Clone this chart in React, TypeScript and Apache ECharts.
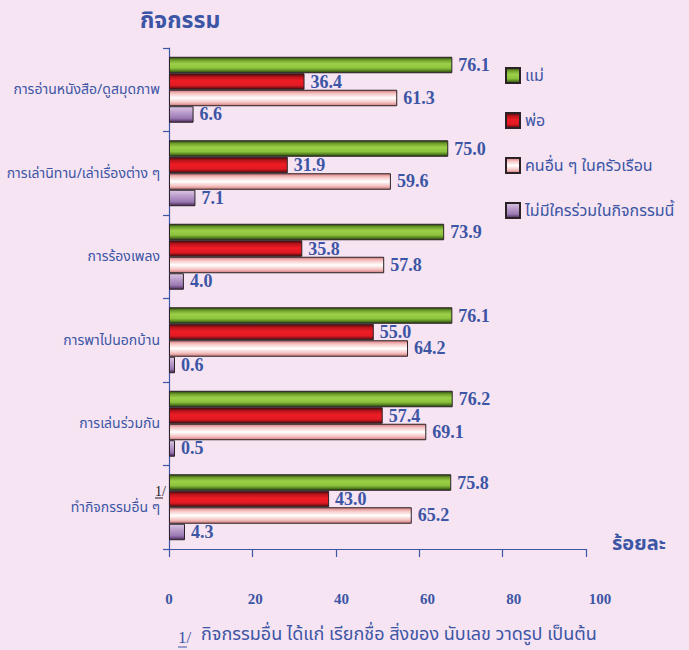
import React, { useEffect, useRef } from "react";
import * as echarts from "echarts";

const categories = [
  "การอ่านหนังสือ/ดูสมุดภาพ",
  "การเล่านิทาน/เล่าเรื่องต่าง ๆ",
  "การร้องเพลง",
  "การพาไปนอกบ้าน",
  "การเล่นร่วมกัน",
  "ทำกิจกรรมอื่น ๆ",
];
const seriesNames = ["แม่", "พ่อ", "คนอื่น ๆ ในครัวเรือน", "ไม่มีใครร่วมในกิจกรรมนี้"];
const mother = [76.1, 75.0, 73.9, 76.1, 76.2, 75.8];
const father = [36.4, 31.9, 35.8, 55.0, 57.4, 43.0];
const others = [61.3, 59.6, 57.8, 64.2, 69.1, 65.2];
const nobody = [6.6, 7.1, 4.0, 0.6, 0.5, 4.3];
const tickValues = [0, 20, 40, 60, 80, 100];

const BLUE = "#3c55a5";
const THAI = "'Noto Sans Thai', 'Noto Sans', 'DejaVu Sans', sans-serif";
const SERIF = "'Liberation Serif', 'Times New Roman', serif";

const grad = (stops: [number, string][]) =>
  new echarts.graphic.LinearGradient(0, 0, 0, 1, stops.map(([offset, color]) => ({ offset, color })));

const fills = [
  grad([[0, "#2c4510"], [0.18, "#6e9e2a"], [0.42, "#9dd049"], [0.7, "#8cc33c"], [0.88, "#517c1d"], [1, "#263b0e"]]),
  grad([[0, "#3e0808"], [0.2, "#b8141b"], [0.45, "#ee1c25"], [0.75, "#e21a23"], [0.9, "#8a1016"], [1, "#3e0808"]]),
  grad([[0, "#d47c7c"], [0.22, "#f7c6c6"], [0.5, "#ffffff"], [0.78, "#f6c4c4"], [1, "#cf7a7a"]]),
  grad([[0, "#dcc6e4"], [0.35, "#bc9fcc"], [0.75, "#9a78b2"], [1, "#4a2858"]]),
];

export default function App() {
  const ref = useRef<HTMLDivElement>(null);
  useEffect(() => {
    if (!ref.current) return;
    const chart = echarts.init(ref.current, null, { renderer: "svg" });
    const data = [mother, father, others, nobody];
    const option: any = {
      animation: false,
      backgroundColor: "#f6e4f2",
      legend: {
        orient: "vertical",
        left: 500,
        top: 62,
        itemWidth: 14,
        itemHeight: 15,
        itemGap: 28,
        icon: "rect",
        data: seriesNames,
        textStyle: { color: BLUE, fontSize: 16, fontFamily: THAI },
      },
      grid: [
        { left: 169, right: 103, top: 48, bottom: 101, containLabel: false },
        { left: 169, width: 431, top: 48, bottom: 101, containLabel: false },
      ],
      xAxis: [
        {
          type: "value",
          gridIndex: 0,
          min: 0,
          max: 100,
          interval: 20,
          axisLine: { show: true, lineStyle: { color: BLUE, width: 1.2 } },
          axisTick: { show: true, length: 8, lineStyle: { color: BLUE, width: 1.2 } },
          axisLabel: { show: false },
          splitLine: { show: false },
        },
        {
          type: "value",
          gridIndex: 0,
          min: 0,
          max: 112,
          show: false,
          splitLine: { show: false },
        },
        {
          type: "value",
          gridIndex: 1,
          min: 0,
          max: 100,
          interval: 20,
          axisLine: { show: false },
          axisTick: { show: false },
          splitLine: { show: false },
          axisLabel: {
            show: true,
            margin: 42,
            color: BLUE,
            fontFamily: SERIF,
            fontWeight: "bold",
            fontSize: 15,
            customValues: tickValues,
          },
        },
      ],
      yAxis: [
        {
          type: "category",
          gridIndex: 0,
          inverse: true,
          data: categories,
          axisLine: { show: true, lineStyle: { color: BLUE, width: 1.2 } },
          axisTick: { show: true, length: 6, lineStyle: { color: BLUE, width: 1.2 } },
          axisLabel: { color: BLUE, fontFamily: THAI, fontSize: 14, margin: 9 },
        },
        { type: "category", gridIndex: 1, data: categories, show: false },
      ],
      series: seriesNames.map((name, i) => ({
        name,
        type: "bar",
        xAxisIndex: 1,
        yAxisIndex: 0,
        data: data[i],
        barGap: "0%",
        barCategoryGap: "21%",
        barMinHeight: i === 3 ? 6 : 0,
        itemStyle: { color: fills[i], borderColor: "#2a2226", borderWidth: 1 },
        label: {
          show: true,
          position: "right",
          distance: 6,
          color: BLUE,
          fontFamily: SERIF,
          fontWeight: "bold",
          fontSize: 18,
          formatter: (p: any) => p.value.toFixed(1),
        },
      })),
      graphic: [
        {
          type: "text",
          left: 140,
          top: 9,
          style: { text: "กิจกรรม", fill: BLUE, font: `bold 23px ${THAI}` },
        },
        {
          type: "text",
          left: 612,
          top: 534,
          style: { text: "ร้อยละ", fill: BLUE, font: `bold 20px ${THAI}` },
        },
        {
          type: "text",
          left: 155,
          top: 484,
          style: { text: "1/", fill: "#222", font: `14px ${SERIF}` },
        },
        { type: "line", shape: { x1: 155, y1: 498, x2: 163, y2: 498 }, style: { stroke: "#222", lineWidth: 1 } },
        {
          type: "text",
          left: 178,
          top: 629,
          style: { text: "1/", fill: BLUE, font: `17px ${SERIF}` },
        },
        { type: "line", shape: { x1: 178, y1: 647, x2: 187, y2: 647 }, style: { stroke: BLUE, lineWidth: 1 } },
        {
          type: "text",
          left: 201,
          top: 625,
          style: { text: "กิจกรรมอื่น ได้แก่ เรียกชื่อ สิ่งของ นับเลข วาดรูป เป็นต้น", fill: BLUE, font: `18px ${THAI}` },
        },
      ],
    };
    chart.setOption(option);
    return () => chart.dispose();
  }, []);
  return <div ref={ref} style={{ width: 689, height: 650, position: "absolute", left: 0, top: 0 }} />;
}
